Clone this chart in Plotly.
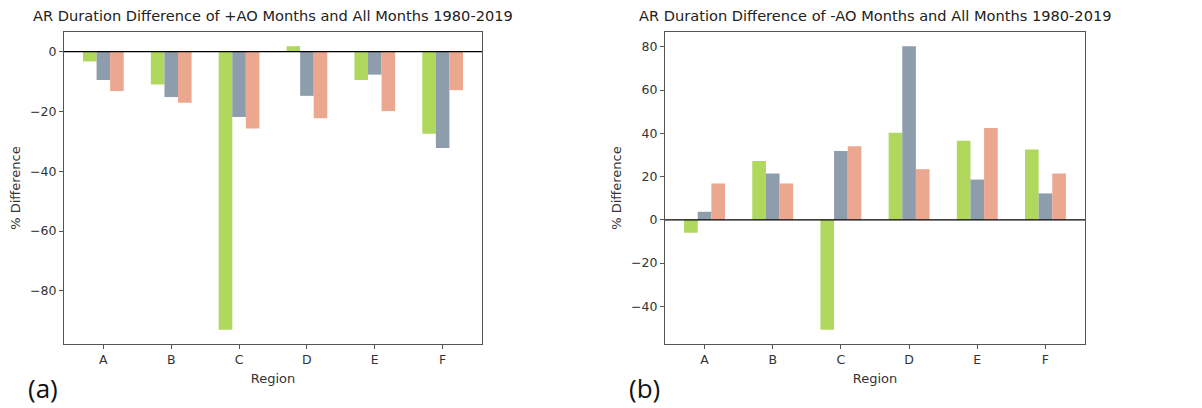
import plotly.graph_objects as go

# Regions and per-region % difference for the three series
regions = ["A", "B", "C", "D", "E", "F"]

pos_green = [-3.3, -11.0, -93.0, 1.8, -9.5, -27.5]
pos_gray = [-9.5, -15.2, -21.9, -14.8, -7.7, -32.2]
pos_salmon = [-13.2, -17.1, -25.7, -22.3, -19.9, -12.9]

neg_green = [-6.0, 27.2, -50.9, 40.3, 36.5, 32.5]
neg_gray = [3.7, 21.4, 31.8, 80.3, 18.6, 12.2]
neg_salmon = [16.8, 16.8, 34.0, 23.4, 42.5, 21.4]

pos_yticks = [0, -20, -40, -60, -80]
neg_yticks = [80, 60, 40, 20, 0, -20, -40]

titles = [
    "AR Duration Difference of +AO Months and All Months 1980-2019",
    "AR Duration Difference of -AO Months and All Months 1980-2019",
]
panel_tags = ["(a)", "(b)"]

colors = ["#afd85c", "#8e9dab", "#eca790"]

W, H = 1202, 408
# plot-area boxes in pixels (left, right, top, bottom)
boxes = [(64, 482, 32, 344), (665, 1085, 32, 344)]


def px_x(v):
    return v / W


def px_y(v):
    return 1 - v / H


fig = go.Figure()

panels = [
    ((pos_green, pos_gray, pos_salmon), "x", "y"),
    ((neg_green, neg_gray, neg_salmon), "x2", "y2"),
]
for series, xa, ya in panels:
    for vals, col in zip(series, colors):
        fig.add_trace(
            go.Bar(
                x=regions,
                y=vals,
                marker=dict(color=col, line=dict(width=0)),
                xaxis=xa,
                yaxis=ya,
                showlegend=False,
            )
        )

axis_common = dict(
    showgrid=False,
    zeroline=False,
    showline=True,
    mirror=True,
    linecolor="#555555",
    linewidth=1.3,
    ticks="outside",
    ticklen=4,
    tickwidth=1,
    tickcolor="#555555",
    tickfont=dict(family="DejaVu Sans", size=12.5, color="#333333"),
)

yranges = [
    [min(pos_green + pos_gray + pos_salmon), max(pos_green + pos_gray + pos_salmon)],
    [min(neg_green + neg_gray + neg_salmon), max(neg_green + neg_gray + neg_salmon)],
]
ytick_sets = [pos_yticks, neg_yticks]

layout = dict(
    width=W,
    height=H,
    margin=dict(l=0, r=0, t=0, b=0),
    paper_bgcolor="white",
    plot_bgcolor="white",
    barmode="group",
    bargap=0.4,
    bargroupgap=0,
    font=dict(family="DejaVu Sans", color="#333333"),
)

annotations = []
shapes = []
for i, (l, r, t, b) in enumerate(boxes):
    sfx = "" if i == 0 else "2"
    lo, hi = yranges[i]
    pad = 0.05 * (hi - lo)
    layout["xaxis" + sfx] = dict(
        axis_common,
        domain=[px_x(l), px_x(r)],
        anchor="y" + sfx,
        range=[-0.58, 5.58],
        type="category",
        title=dict(text="Region", font=dict(family="DejaVu Sans", size=13, color="#333333"), standoff=7),
    )
    layout["yaxis" + sfx] = dict(
        axis_common,
        domain=[px_y(b), px_y(t)],
        anchor="x" + sfx,
        range=[lo - pad, hi + pad],
        tickvals=ytick_sets[i],
        ticktext=[("\u2212" + str(-v)) if v < 0 else str(v) for v in ytick_sets[i]],
        title=dict(text="% Difference", font=dict(family="DejaVu Sans", size=13, color="#333333"), standoff=6),
    )
    # title above each panel
    annotations.append(
        dict(
            text=titles[i],
            x=px_x((l + r) / 2),
            y=px_y(26),
            xref="paper",
            yref="paper",
            xanchor="center",
            yanchor="bottom",
            showarrow=False,
            font=dict(family="DejaVu Sans", size=14.6, color="#222222"),
        )
    )
    # panel tag
    annotations.append(
        dict(
            text=panel_tags[i],
            x=px_x(l - 38),
            y=px_y(388),
            xref="paper",
            yref="paper",
            xanchor="left",
            yanchor="middle",
            showarrow=False,
            font=dict(family="Open Sans", size=26, color="#111111"),
        )
    )
    # zero reference line drawn on top of the bars
    shapes.append(
        dict(
            type="line",
            xref="x" + sfx + " domain",
            yref="y" + sfx,
            x0=0,
            x1=1,
            y0=0,
            y1=0,
            line=dict(color="black", width=1.3),
            layer="above",
        )
    )

layout["annotations"] = annotations
layout["shapes"] = shapes
fig.update_layout(**layout)

fig.write_html("out.html")
